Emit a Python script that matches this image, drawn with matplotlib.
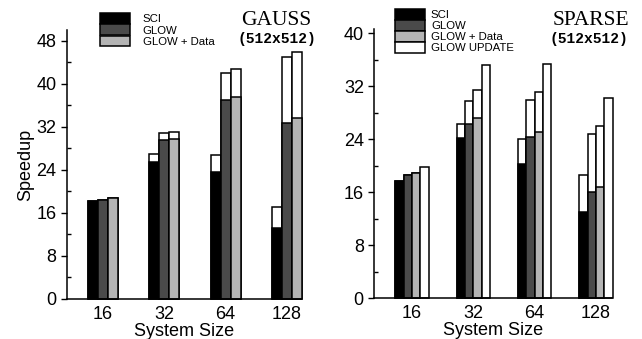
import matplotlib
matplotlib.use("Agg")
import matplotlib.pyplot as plt
import numpy as np
from matplotlib.patches import Patch

plt.rcParams['font.family'] = ['Liberation Sans', 'DejaVu Sans']

sizes = ["16", "32", "64", "128"]

# GAUSS (512x512): base speedup and speedup with update (white cap)
gauss_sci = [18.2, 25.5, 23.6, 13.2]
gauss_sci_upd = [18.2, 27.0, 26.7, 17.1]
gauss_glow = [18.5, 29.5, 37.0, 32.7]
gauss_glow_upd = [18.5, 30.9, 42.1, 45.0]
gauss_data = [18.7, 29.7, 37.6, 33.6]
gauss_data_upd = [18.7, 31.1, 42.7, 46.0]

# SPARSE (512x512)
sparse_sci = [17.7, 24.2, 20.3, 13.1]
sparse_sci_upd = [17.7, 26.3, 24.0, 18.7]
sparse_glow = [18.6, 26.3, 24.3, 16.1]
sparse_glow_upd = [18.6, 29.8, 30.0, 24.9]
sparse_data = [18.9, 27.3, 25.1, 16.9]
sparse_data_upd = [18.9, 31.4, 31.1, 26.1]
sparse_update = [19.9, 35.2, 35.4, 30.3]

labels = ["SCI", "GLOW", "GLOW + Data", "GLOW UPDATE"]
colors = ["#000000", "#4a4a4a", "#b4b4b4", "#ffffff"]

fig = plt.figure(figsize=(6.42, 3.39), dpi=100)
ax1 = fig.add_axes([0.1044, 0.118, 0.3645, 0.793])
ax2 = fig.add_axes([0.583, 0.1195, 0.371, 0.7935])

x = np.arange(len(sizes))


def style(ax, ymax, xlim):
    ax.set_ylim(0, ymax)
    ax.set_xlim(*xlim)
    for s in ["top", "right"]:
        ax.spines[s].set_visible(False)
    for s in ["left", "bottom"]:
        ax.spines[s].set_linewidth(1.1)
    ax.set_xticks(x)
    ax.set_xticklabels(sizes)
    ax.tick_params(axis="x", length=0, labelsize=13, pad=5)
    ax.tick_params(axis="y", which="major", direction="out", length=4, width=1, labelsize=13)
    ax.tick_params(axis="y", which="minor", direction="in", length=3, width=1)
    ax.set_xlabel("System Size", fontsize=13, labelpad=0)


# left panel
w = 0.163
pairs = [(gauss_sci, gauss_sci_upd), (gauss_glow, gauss_glow_upd), (gauss_data, gauss_data_upd)]
for i, (base, upd) in enumerate(pairs):
    pos = x + (i - 1) * w
    ax1.bar(pos, upd, w, color="white", edgecolor="black", linewidth=1.1, clip_on=False)
    ax1.bar(pos, base, w, color=colors[i], edgecolor="black", linewidth=1.1, clip_on=False)
style(ax1, 50, (-0.59, 3.23))
ax1.set_yticks(np.arange(0, 49, 8))
ax1.set_yticks(np.arange(4, 49, 8), minor=True)
ax1.set_ylabel("Speedup", fontsize=13, labelpad=2)
h1 = [Patch(facecolor=colors[i], edgecolor="black", linewidth=1.1) for i in range(3)]
fig.legend(h1, labels[:3], loc="upper left", bbox_to_anchor=(0.1558, 0.962),
           frameon=False, fontsize=8.2, handlelength=2.65, handleheight=1.1,
           labelspacing=0, handletextpad=1.1, borderpad=0, borderaxespad=0)
fig.text(0.43, 0.94, "GAUSS", family="Liberation Serif", fontsize=15.5,
         ha="center", va="center")
fig.text(0.432, 0.885, "(512x512)", family="Liberation Mono", fontweight="bold",
         fontsize=10.5, ha="center", va="center")

# right panel
w2 = 0.137
pairs2 = [(sparse_sci, sparse_sci_upd), (sparse_glow, sparse_glow_upd), (sparse_data, sparse_data_upd)]
for i, (base, upd) in enumerate(pairs2):
    pos = x + (i - 1.5) * w2
    ax2.bar(pos, upd, w2, color="white", edgecolor="black", linewidth=1.1, clip_on=False)
    ax2.bar(pos, base, w2, color=colors[i], edgecolor="black", linewidth=1.1, clip_on=False)
ax2.bar(x + 1.5 * w2, sparse_update, w2, color="white", edgecolor="black", linewidth=1.1,
        clip_on=False)
style(ax2, 40.6, (-0.615, 3.27))
ax2.set_yticks(np.arange(0, 41, 8))
ax2.set_yticks(np.arange(4, 41, 8), minor=True)
h2 = [Patch(facecolor=colors[i], edgecolor="black", linewidth=1.1) for i in range(4)]
fig.legend(h2, labels, loc="upper left", bbox_to_anchor=(0.6153, 0.972),
           frameon=False, fontsize=8.2, handlelength=2.65, handleheight=1.0,
           labelspacing=0, handletextpad=0.5, borderpad=0, borderaxespad=0)
fig.text(0.92, 0.94, "SPARSE", family="Liberation Serif", fontsize=15.5,
         ha="center", va="center")
fig.text(0.918, 0.885, "(512x512)", family="Liberation Mono", fontweight="bold",
         fontsize=10.5, ha="center", va="center")

fig.savefig("out.png", dpi=100)
